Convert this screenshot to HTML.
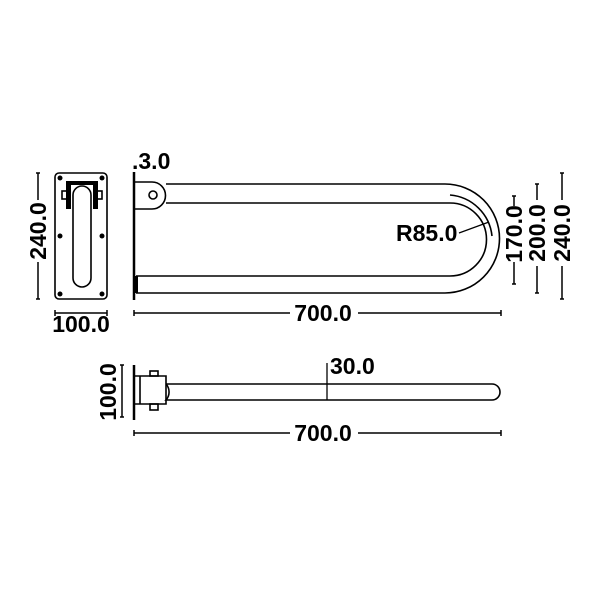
<!DOCTYPE html>
<html><head><style>body{margin:0;background:#fff}svg{display:block}text{font-family:"Liberation Sans",sans-serif;font-weight:bold;fill:#000}</style></head>
<body>
<svg width="601" height="601" viewBox="0 0 601 601" xmlns="http://www.w3.org/2000/svg">
<rect width="601" height="601" fill="#fff"/>
<g fill="none" stroke="#000" stroke-width="1.6">
<rect x="55" y="173" width="52" height="126" rx="4"/>
<path d="M67 191 V209 M97 191 V209 M67 182 H97 V191 M67 182 V191"/>
<rect x="62" y="191" width="5" height="8"/>
<rect x="97" y="191" width="5" height="8"/>
</g>
<g fill="#000">
<rect x="66" y="181" width="5" height="28"/><rect x="93" y="181" width="5" height="28"/><rect x="66" y="181" width="32" height="4"/>
<circle cx="60" cy="178" r="2.5"/><circle cx="102" cy="178" r="2.5"/>
<circle cx="60" cy="236" r="2.5"/><circle cx="102" cy="236" r="2.5"/>
<circle cx="60" cy="294" r="2.5"/><circle cx="102" cy="294" r="2.5"/>
</g>
<rect x="73" y="186" width="18" height="101" rx="9" fill="#fff" stroke="#000" stroke-width="1.6"/>
<g stroke="#000" stroke-width="1.5" fill="none">
<path d="M38 173 V200 M38 262 V299 M36 173 H40 M36 299 H40"/>
<path d="M55 313 H107 M55 310 V316 M107 310 V316"/>
</g>
<text font-size="23" text-anchor="middle" transform="translate(46,231) rotate(-90)">240.0</text>
<text x="81" y="332" font-size="23" text-anchor="middle">100.0</text>
<g stroke="#000" fill="none" stroke-width="1.6">
<path d="M134 172 V300" stroke-width="2.5"/>
<path d="M135 182 H152 A13.5 13.5 0 0 1 152 209 H135"/>
<circle cx="153" cy="195" r="4"/>
<path d="M166 184 H445 A54.5 54.5 0 0 1 445 293 H136"/>
<path d="M166 203 H450 A36.5 36.5 0 0 1 450 276 H136"/>
<path d="M450 195 A46 46 0 0 1 492 236"/>
<path d="M459 233 L489 222" stroke-width="1.2"/>
</g>
<rect x="134" y="276" width="4" height="17" fill="#000"/>
<text x="132" y="169" font-size="23">.3.0</text>
<text x="396" y="241" font-size="23">R85.0</text>
<g stroke="#000" stroke-width="1.5" fill="none">
<path d="M514 196 V206 M514 262 V284 M512 196 H516 M512 284 H516"/>
<path d="M537 184 V200 M537 266 V293 M535 184 H539 M535 293 H539"/>
<path d="M562 173 V200 M562 266 V299 M560 173 H564 M560 299 H564"/>
<path d="M134 313 H290 M358 313 H501 M134 310 V316 M501 310 V316"/>
</g>
<text font-size="23" text-anchor="middle" transform="translate(522,234) rotate(-90)">170.0</text>
<text font-size="23" text-anchor="middle" transform="translate(545,233) rotate(-90)">200.0</text>
<text font-size="23" text-anchor="middle" transform="translate(570,233) rotate(-90)">240.0</text>
<text x="323" y="321" font-size="23" text-anchor="middle">700.0</text>
<g stroke="#000" fill="none" stroke-width="1.6">
<path d="M134 365 V420" stroke-width="2.5"/>
<path d="M135 376 H166 V404 H135"/>
<path d="M140 376 V404"/>
<rect x="150" y="371" width="8" height="5"/>
<rect x="150" y="404" width="8" height="6"/>
<path d="M166 384 H492 A8 8 0 0 1 492 400 H166 A12 12 0 0 0 166 384"/>
<path d="M327 363 V400" stroke-width="1.3"/>
</g>
<g stroke="#000" stroke-width="1.5" fill="none">
<path d="M122 365 V417 M120 365 H124 M120 417 H124"/>
<path d="M134 433 H290 M358 433 H501 M134 430 V436 M501 430 V436"/>
</g>
<text x="330" y="374" font-size="23">30.0</text>
<text font-size="23" text-anchor="middle" transform="translate(116,392) rotate(-90)">100.0</text>
<text x="323" y="441" font-size="23" text-anchor="middle">700.0</text>
</svg>
</body></html>
